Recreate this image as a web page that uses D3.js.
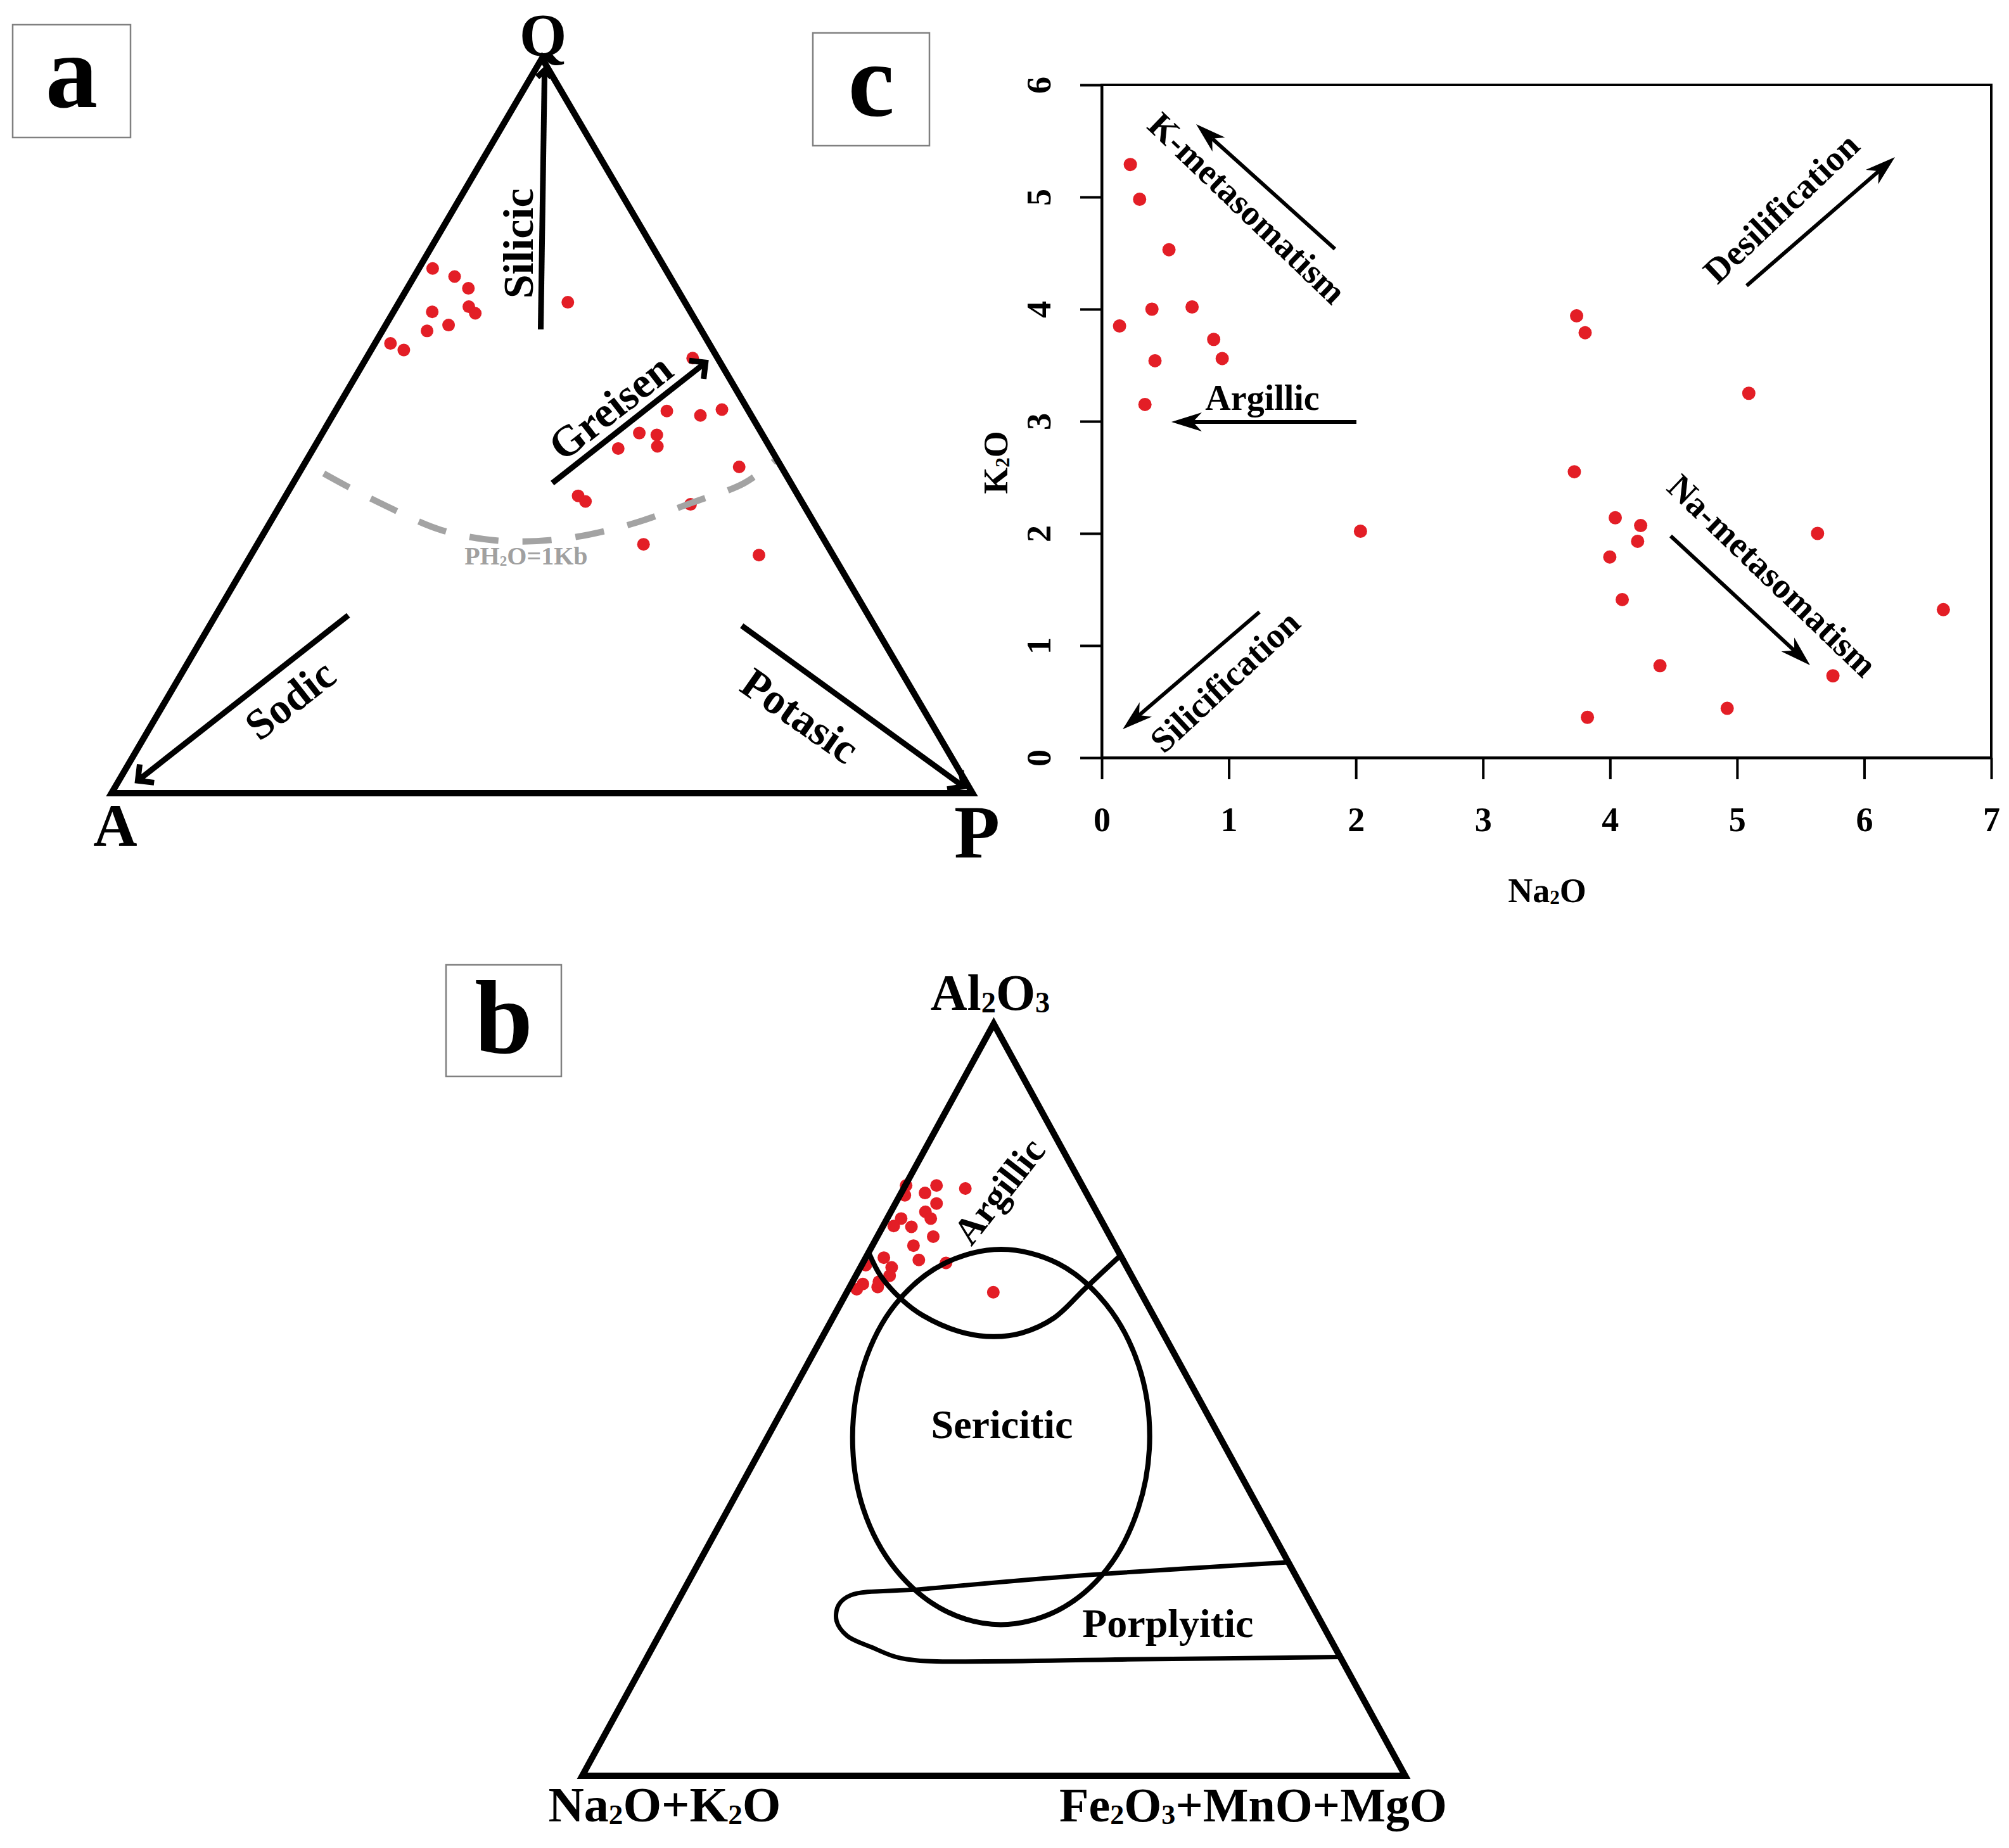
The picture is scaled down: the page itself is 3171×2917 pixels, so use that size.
<!DOCTYPE html>
<html><head><meta charset="utf-8">
<script src="https://cdn.jsdelivr.net/npm/d3@7"></script>
<style>body{margin:0;background:#fff}svg{display:block}</style>
</head><body>
<svg id="chart" width="3171" height="2917"></svg>
<script>
// ================= DATA =================
// Panel a : Q - A - P ternary (percent)
const aQ = [71.4,70.3,68.7,66.2,65.3,65.5,63.7,62.9,61.2,60.3,66.8,59.2,52.0,51.4,52.2,49.0,48.8,47.2,46.9,44.4,40.5,39.7,39.3,33.9,32.4];
const aA = [27.0,25.0,24.2,25.4,25.1,30.0,29.0,31.9,37.0,35.9,13.6,2.9,9.5,5.9,3.0,14.2,12.3,13.0,17.7,4.9,25.6,25.1,13.1,21.3,8.6];
const aP = [1.6,4.7,7.1,8.4,9.6,4.5,7.3,5.2,1.8,3.8,19.6,37.9,38.5,42.7,44.8,36.8,39.0,39.8,35.4,50.7,34.0,35.2,47.6,44.9,59.0];
// PH2O = 1 kb boundary (Q, P percent; A = remainder)
const phQ = [43.5,41.8,39.6,35.8,34.3,34.7,36.6,39.6,42.2,45.2];
const phP = [2.9,6.4,11.2,20.4,28.5,35.6,42.0,47.8,52.4,54.4];

// Panel b : Al2O3 - (Na2O+K2O) - (Fe2O3+MnO+MgO) ternary (percent)
const bAl = [78.5,77.2,77.5,78.5,78.1,76.1,75.0,74.1,74.1,73.1,73.0,71.7,70.5,68.6,68.2,68.9,67.6,66.5,67.9,65.4,64.7,65.0,65.7,64.3];
const bFe = [0.1,0.6,2.9,3.8,7.5,5.0,4.2,5.3,1.7,1.3,3.5,6.8,5.0,6.6,10.1,2.2,3.8,4.1,0.5,1.4,1.0,3.4,3.2,17.8];
// field boundaries (Al2O3, Fe2O3+MnO+MgO)
const argAl = [69.6,66.5,63.3,61.2,59.1,58.4,58.9,60.9,64.8,69.2];
const argFe = [0.0,3.0,7.2,10.8,16.2,20.7,24.0,26.9,28.7,30.8];
const serAl = [70.0,68.1,62.7,54.6,45.1,35.5,27.4,22.0,20.1,22.0,27.4,35.5,45.1,54.6,62.7,68.1];
const serFe = [15.9,23.8,32.3,40.3,46.4,49.8,50.0,46.8,40.8,33.0,24.4,16.4,10.3,6.9,6.7,9.9];
const porAl = [28.4,26.6,24.8,24.0,22.7,20.6,18.6,17.1,15.8,15.3,15.5,15.8];
const porFe = [71.6,46.9,28.6,20.6,19.8,20.6,22.9,26.6,30.2,33.4,60.1,84.2];

// Panel c : Na2O vs K2O (wt%)
const na2o = [0.225,0.298,0.529,0.395,0.14,0.711,0.881,0.948,0.419,0.34,2.036,3.737,3.804,5.092,3.719,4.041,4.241,4.217,3.998,4.096,4.393,4.922,3.822,5.633,5.754,6.623];
const k2o  = [5.29,4.98,4.53,4.00,3.85,4.02,3.73,3.56,3.54,3.15,2.02,3.94,3.79,3.25,2.55,2.14,2.07,1.93,1.79,1.41,0.82,0.44,0.36,2.00,0.73,1.32];
const cXTicks = [0,1,2,3,4,5,6,7];
const cYTicks = [0,1,2,3,4,5,6];

// Annotations
const aArrows = [ // Q,P start -> Q,P end
  {q0:63.1,p0:18.3,q1:98.4,p1:1.1,len:16},
  {q0:42.2,p0:30.1,q1:58.6,p1:39.7,len:26},
  {q0:24.2,p0:15.4,q1:1.7,p1:2.2,len:26},
  {q0:22.8,p0:61.8,q1:0.9,p1:98.5,len:26}
];
const aLabels = [
  {t:"Silicic",q:74.8,p:9.8,rot:-90},
  {t:"Greisen",q:52.6,p:31.6,rot:-38},
  {t:"Sodic",q:12.8,p:14.3,rot:-38},
  {t:"Potasic",q:10.6,p:74.7,rot:35}
];
const bLabels = [
  {t:"Argillic",al:77.8,fe:11.7,rot:-52,w:"bold",size:60},
  {t:"Sericitic",al:46.8,fe:27.6,rot:0,w:"bold",size:64},
  {t:"Porplyitic",al:20.3,fe:61.0,rot:0,w:"bold",size:64}
];
const cArrows = [
  {t:"K-metasomatism",x0:1.835,y0:4.537,x1:0.743,y1:5.65,lx:1.147,ly:4.904,rot:43.8},
  {t:"Desilification",x0:5.075,y0:4.209,x1:6.242,y1:5.356,lx:5.345,ly:4.904,rot:-43.6},
  {t:"Argillic",x0:2.004,y0:2.994,x1:0.548,y1:2.994,lx:1.264,ly:3.215,rot:0},
  {t:"Silicification",x0:1.241,y0:1.299,x1:0.165,y1:0.254,lx:0.967,ly:0.684,rot:-43},
  {t:"Na-metasomatism",x0:4.477,y0:1.977,x1:5.574,y1:0.825,lx:5.28,ly:1.627,rot:43.8}
];

// ================= DRAWING =================
const svg = d3.select("#chart");
const FONT = "'Liberation Serif','Times New Roman',Times,serif";
const RED = "#e31e26";
svg.append("rect").attr("width",3171).attr("height",2917).attr("fill","#fff");

function txt(g,x,y,s,o){
  const size=o.size||50;
  const t=g.append("text")
    .attr("transform",`translate(${x},${y})`+(o.rot?` rotate(${o.rot})`:""))
    .attr("text-anchor",o.anchor||"middle")
    .attr("font-family",FONT).attr("font-size",size)
    .attr("font-weight",o.weight||"bold").attr("fill",o.fill||"#000")
    .attr("y",o.center?size*0.35:0);
  const parts=s.split(/(_\d)/).filter(d=>d);
  let sub=false;
  parts.forEach(p=>{
    if(p[0]==="_"){
      t.append("tspan").attr("font-size",size*0.58).attr("dy",size*0.05).text(p.slice(1));
      sub=true;
    } else {
      const ts=t.append("tspan").text(p);
      if(sub){ts.attr("dy",-size*0.05);sub=false;}
    }
  });
  return t;
}
function boxLabel(x,y,w,h,ch,base){
  svg.append("rect").attr("x",x).attr("y",y).attr("width",w).attr("height",h)
    .attr("fill","#fff").attr("stroke","#808080").attr("stroke-width",2.5);
  txt(svg,x+w/2,base,ch,{size:165,weight:"bold"});
}
function chevArrow(g,x1,y1,x2,y2,len,sw){
  const th=Math.atan2(y2-y1,x2-x1), ang=Math.PI/4;
  g.append("line").attr("x1",x1).attr("y1",y1).attr("x2",x2).attr("y2",y2)
    .attr("stroke","#000").attr("stroke-width",sw);
  const a1=[x2-len*Math.cos(th-ang),y2-len*Math.sin(th-ang)];
  const a2=[x2-len*Math.cos(th+ang),y2-len*Math.sin(th+ang)];
  g.append("path").attr("d",`M${a1}L${x2},${y2}L${a2}`).attr("fill","none")
    .attr("stroke","#000").attr("stroke-width",sw);
}
function stealthArrow(g,x1,y1,x2,y2){
  const th=Math.atan2(y2-y1,x2-x1), L=48, Wd=15, N=34;
  const ux=Math.cos(th), uy=Math.sin(th), px=-uy, py=ux;
  const bx=x2-L*ux, by=y2-L*uy, nx=x2-N*ux, ny=y2-N*uy;
  g.append("line").attr("x1",x1).attr("y1",y1).attr("x2",nx).attr("y2",ny)
    .attr("stroke","#000").attr("stroke-width",6);
  g.append("path").attr("d",`M${x2},${y2}L${bx+Wd*px},${by+Wd*py}L${nx},${ny}L${bx-Wd*px},${by-Wd*py}Z`)
    .attr("fill","#000");
}

// ---------- Panel a ----------
const ga = svg.append("g");
const axX = d3.scaleLinear().domain([0,1]).range([176,1535]);
const axY = d3.scaleLinear().domain([0,1]).range([1252,92]);
function projA(q,p){ const s=100; return [axX((p+q/2)/s), axY(q/s)]; }
const aPts = aQ.map((q,i)=>({q:q,a:aA[i],p:aP[i]}));
ga.selectAll("circle.pa").data(aPts).join("circle")
  .attr("cx",d=>{const s=d.q+d.a+d.p;return axX((d.p+d.q/2)/s);})
  .attr("cy",d=>{const s=d.q+d.a+d.p;return axY(d.q/s);})
  .attr("r",10).attr("fill",RED);
// PH2O curve
ga.append("path").datum(phQ.map((q,i)=>projA(q,phP[i])))
  .attr("d",d3.line().curve(d3.curveCatmullRom.alpha(0.5)))
  .attr("fill","none").attr("stroke","#a3a3a3").attr("stroke-width",10)
  .attr("stroke-dasharray","46,38");
txt(ga,...projA(32.3,32.0),"PH_2O=1Kb",{size:40,fill:"#a0a0a0",center:true});
// triangle
const triA=[projA(100,0),projA(0,0),projA(0,100)];
ga.append("path").attr("d",d3.line()(triA)+"Z").attr("fill","none")
  .attr("stroke","#000").attr("stroke-width",10).attr("stroke-linejoin","miter");
aArrows.forEach(a=>{
  const s=projA(a.q0,a.p0), e=projA(a.q1,a.p1);
  chevArrow(ga,s[0],s[1],e[0],e[1],a.len,9);
});
aLabels.forEach(l=>{ const p=projA(l.q,l.p); txt(ga,p[0],p[1],l.t,{size:68,rot:l.rot,center:true}); });
txt(ga,857,88,"Q",{size:96});
txt(ga,182,1335,"A",{size:96});
txt(ga,1542,1354,"P",{size:118});
boxLabel(20,39,186,178,"a",169);

// ---------- Panel b ----------
const gb = svg.append("g");
const bxX = d3.scaleLinear().domain([0,1]).range([919,2218]);
const bxY = d3.scaleLinear().domain([0,1]).range([2803,1616]);
function projB(al,fe){ return [bxX((fe+al/2)/100), bxY(al/100)]; }
gb.selectAll("circle.pb").data(bAl.map((al,i)=>({al:al,fe:bFe[i]}))).join("circle")
  .attr("cx",d=>projB(d.al,d.fe)[0]).attr("cy",d=>projB(d.al,d.fe)[1])
  .attr("r",10).attr("fill",RED);
const lineC = d3.line().curve(d3.curveCatmullRom.alpha(0.5));
gb.append("path").datum(argAl.map((a,i)=>projB(a,argFe[i])))
  .attr("d",lineC).attr("fill","none").attr("stroke","#000").attr("stroke-width",8);
gb.append("path").datum(serAl.map((a,i)=>projB(a,serFe[i])))
  .attr("d",d3.line().curve(d3.curveCatmullRomClosed.alpha(0.5)))
  .attr("fill","none").attr("stroke","#000").attr("stroke-width",8);
gb.append("path").datum(porAl.map((a,i)=>projB(a,porFe[i])))
  .attr("d",lineC).attr("fill","none").attr("stroke","#000").attr("stroke-width",7);
const triB=[projB(100,0),projB(0,0),projB(0,100)];
gb.append("path").attr("d",d3.line()(triB)+"Z").attr("fill","none")
  .attr("stroke","#000").attr("stroke-width",10).attr("stroke-linejoin","miter");
bLabels.forEach(l=>{const p=projB(l.al,l.fe); txt(gb,p[0],p[1],l.t,{size:l.size,rot:l.rot,weight:l.w,center:true});});
txt(gb,1563,1594,"Al_2O_3",{size:80});
txt(gb,1049,2875,"Na_2O+K_2O",{size:78});
txt(gb,1978,2875,"Fe_2O_3+MnO+MgO",{size:76});
boxLabel(704,1523,182,176,"b",1662);

// ---------- Panel c ----------
const gc = svg.append("g");
const xC = d3.scaleLinear().domain([0,7]).range([1739,3143]);
const yC = d3.scaleLinear().domain([0,6]).range([1196,134]);
gc.append("rect").attr("x",xC(0)).attr("y",yC(6)).attr("width",xC(7)-xC(0)).attr("height",yC(0)-yC(6))
  .attr("fill","none").attr("stroke","#000").attr("stroke-width",4);
const yAx = gc.append("g").attr("transform",`translate(${xC(0)},0)`)
  .call(d3.axisLeft(yC).tickValues(cYTicks).tickSize(34).tickSizeOuter(0).tickFormat(d3.format("d")));
const xAx = gc.append("g").attr("transform",`translate(0,${yC(0)})`)
  .call(d3.axisBottom(xC).tickValues(cXTicks).tickSize(34).tickSizeOuter(0).tickFormat(d3.format("d")));
[yAx,xAx].forEach(ax=>{
  ax.select(".domain").attr("stroke","#000").attr("stroke-width",4);
  ax.selectAll(".tick line").attr("stroke","#000").attr("stroke-width",4);
  ax.selectAll(".tick text").attr("font-family",FONT).attr("font-size",54)
    .attr("font-weight","bold").attr("fill","#000");
});
yAx.selectAll(".tick text").attr("x",null).attr("dy",null).attr("text-anchor","middle")
  .attr("transform","translate(-100,0) rotate(-90)").attr("y",19);
xAx.selectAll(".tick text").attr("dy",null).attr("y",116);
gc.selectAll("circle.pc").data(na2o.map((x,i)=>({x:x,y:k2o[i]}))).join("circle")
  .attr("cx",d=>xC(d.x)).attr("cy",d=>yC(d.y)).attr("r",10.5).attr("fill",RED);
cArrows.forEach(a=>{
  stealthArrow(gc,xC(a.x0),yC(a.y0),xC(a.x1),yC(a.y1));
  txt(gc,xC(a.lx),yC(a.ly),a.t,{size:56,rot:a.rot,center:true});
});
txt(gc,2442,1424,"Na_2O",{size:54});
txt(gc,1590,730,"K_2O",{size:54,rot:-90});
boxLabel(1283,52,184,178,"c",182);
</script>
</body></html>
